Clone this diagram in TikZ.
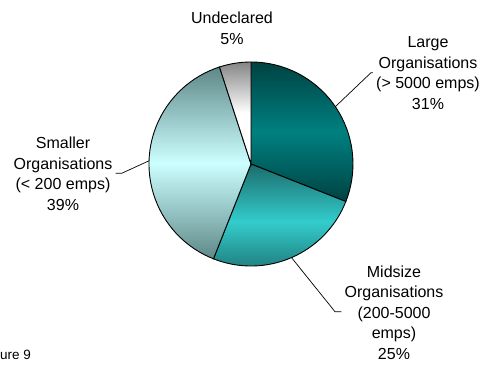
\documentclass[tikz,border=0pt]{standalone}
\usepackage{fontspec}
\setmainfont{Liberation Sans}
\usetikzlibrary{calc}
\definecolor{lgEdge}{HTML}{004242}
\definecolor{lgMid}{HTML}{008080}
\definecolor{mdEdge}{HTML}{1C6C6C}
\definecolor{mdMid}{HTML}{33CCCC}
\definecolor{smEdge}{HTML}{5F8888}
\definecolor{smMid}{HTML}{CCFFFF}
\definecolor{unTop}{HTML}{858585}
\begin{document}
\begin{tikzpicture}[x=1pt,y=1pt,
  lbl/.style={align=center, font=\fontsize{16}{20.5}\selectfont, inner sep=3pt},
  slice/.style={draw=black, line width=0.9pt},
  leader/.style={draw=black, line width=0.7pt}]
\useasboundingbox (0,0) rectangle (488,367);
\coordinate (C) at (251,203);
% slices
\shadedraw[slice, top color=lgEdge, bottom color=lgEdge, middle color=lgMid]
  (C) -- ++(90:102) arc[start angle=90, end angle=-21.6, radius=102] -- cycle;
\shadedraw[slice, top color=mdEdge, bottom color=mdEdge, middle color=mdMid]
  (C) -- ++(-21.6:102) arc[start angle=-21.6, end angle=-111.6, radius=102] -- cycle;
\shadedraw[slice, top color=smEdge, bottom color=smEdge, middle color=smMid]
  (C) -- ++(-111.6:102) arc[start angle=-111.6, end angle=-252, radius=102] -- cycle;
\shadedraw[slice, top color=unTop, bottom color=white, middle color=white]
  (C) -- ++(108:102) arc[start angle=108, end angle=90, radius=102] -- cycle;
% labels
\node[lbl] (und) at (232,338.7) {Undeclared\\5\%};
\node[lbl] (large) at (428,293.7) {Large\\Organisations\\(> 5000 emps)\\31\%};
\node[lbl] (mid) at (394,54.7) {Midsize\\Organisations\\(200-5000\\emps)\\25\%};
\node[lbl] (small) at (63,193) {Smaller\\Organisations\\(< 200 emps)\\39\%};
\node[anchor=base east, font=\fontsize{13.5}{16}\selectfont, inner sep=0pt] (fig) at (31,7) {Figure 9};
% leaders
\coordinate (pL) at ($(C)+(34.2:102)$);
\coordinate (kL) at (371,294.3);
\coordinate (pM) at ($(C)+(-66.6:102)$);
\coordinate (kM) at (335,55.3);
\coordinate (pS) at ($(C)+(178.2:102)$);
\coordinate (kS) at (121.7,193.7);
\draw[leader] (pL) -- (kL) -- (kL -| large.west);
\draw[leader] (pM) -- (kM) -- (kM -| mid.west);
\draw[leader] (pS) -- (kS) -- (kS -| small.east);
\end{tikzpicture}
\end{document}
